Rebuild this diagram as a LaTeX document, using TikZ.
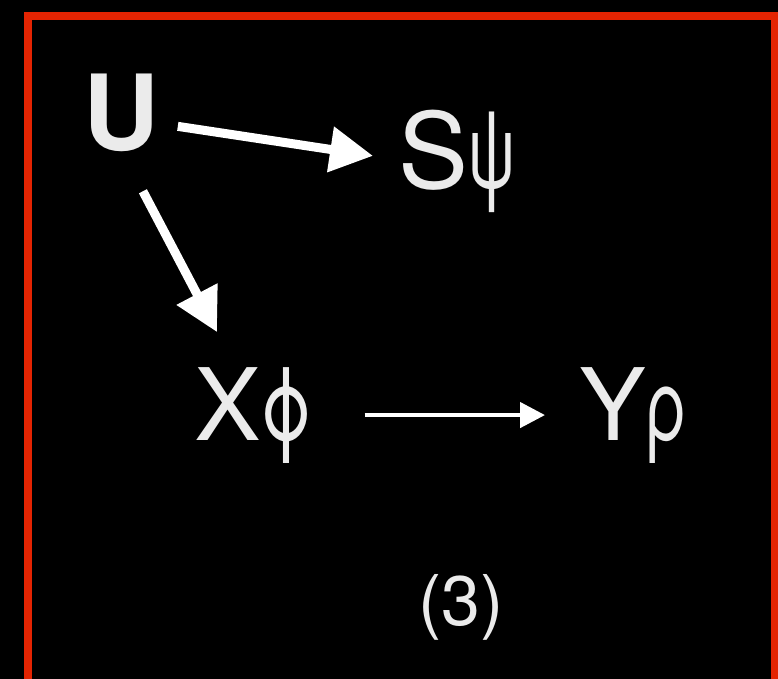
\documentclass[tikz,border=0pt]{standalone}
\usepackage{fontspec}
\usepackage{graphicx}
\setmainfont{TeX Gyre Heros}
\usetikzlibrary{arrows.meta}
\definecolor{frame}{RGB}{228,36,2}
\definecolor{ink}{RGB}{235,235,235}
% the Greek letters are set narrower than the font draws them
\newcommand{\slim}[2]{\scalebox{#1}[1]{#2}}

\begin{document}
\begin{tikzpicture}[x=1pt, y=-1pt,
      every node/.style={inner sep=0pt, outer sep=0pt, text=ink, anchor=base west},
      var/.style={font=\fontsize{105}{105}\selectfont},
      low/.style={font=\fontsize{100}{100}\selectfont},
      tag/.style={font=\fontsize{70}{70}\selectfont},
      fat/.style={-{Triangle[length=43pt, width=44pt]}, line width=9pt, white},
      thin/.style={-{Triangle[length=25pt, width=25pt]}, line width=4.5pt, white},
    ]
    % black page, the red frame runs off the bottom edge
    \useasboundingbox (0,0) rectangle (778,679);
    \fill[black] (0,0) rectangle (778,679);
    \draw[frame, line width=8pt] (28,16) rectangle (774.7,700);
    % variables
    \node[var, font=\fontsize{105}{105}\selectfont\bfseries] (U) at (83,150) {U};
    \node[var] (S) at (398,188) {S\slim{0.62}{ψ}};
    \node[low] (X) at (194,440) {X\slim{0.74}{ϕ}};
    \node[low] (Y) at (579,440) {Y\slim{0.66}{ρ}};
    \node[tag] (num) at (418,625) {(3)};
    % edges
    \draw[fat] ([shift={(19,14)}]U.east) -- ([shift={(-25,-5)}]S.west);
    \draw[fat] ([shift={(22,40)}]U.south) -- ([shift={(23,-35)}]X.north west);
    \draw[thin] (X.east) ++(52,0) -- ([xshift=-34pt]Y.west);
  \end{tikzpicture}
\end{document}
